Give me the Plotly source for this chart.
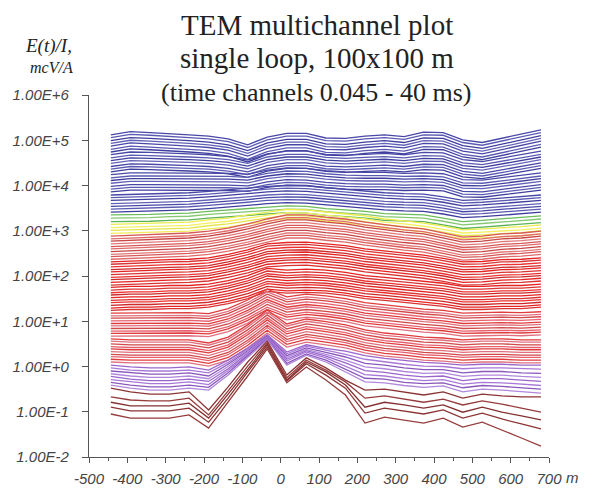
import plotly.graph_objects as go

# ---------------- data ----------------
# receiver stations along the profile, m
stations = [-443, -392, -341, -290, -239, -188, -137, -86, -35, 16, 67, 118,
            169, 220, 271, 322, 373, 424, 475, 526, 577, 628, 679]

# log10(E(t)/I) of every channel at the first station, grouped by colour band
lev_blue = [5.12, 5.06, 4.99, 4.93, 4.87, 4.80, 4.74, 4.68, 4.61, 4.55, 4.49, 4.42, 4.36, 4.30,
            4.24, 4.17, 4.11, 4.05, 3.98, 3.92, 3.86, 3.79, 3.73, 3.67, 3.60, 3.54, 3.48, 3.41]
lev_green = [3.35, 3.28, 3.20]
lev_yellow = [3.14, 3.07, 3.01, 2.94]
lev_red = [2.88, 2.82, 2.77, 2.71, 2.65, 2.60, 2.54, 2.48, 2.43, 2.37,
           2.31, 2.26, 2.20, 2.14, 2.09, 2.03, 1.97, 1.92, 1.86, 1.80,
           1.75, 1.69, 1.63, 1.58, 1.52, 1.46, 1.41, 1.35, 1.29, 1.24,
           1.18, 1.12, 1.07, 1.01, 0.95, 0.90, 0.84, 0.78, 0.73, 0.67,
           0.61, 0.56, 0.50, 0.44, 0.39, 0.33, 0.27, 0.22, 0.16, 0.10]

# profile shapes (log10 change along the line relative to the first station)
shp_blue1 = [0, 0.07, 0.05, 0.03, 0, -0.03, -0.09, -0.22, -0.05, 0.03, 0.03, -0.07, -0.08, -0.03, 0, -0.04, 0.06, 0.05, -0.11, -0.17, -0.08, 0.02, 0.11]
shp_blue2 = [0, 0.06, 0.05, 0.04, 0.02, 0.00, -0.04, -0.12, 0.02, 0.08, 0.08, 0.01, -0.01, 0.01, 0.03, 0.00, 0.05, 0.04, -0.11, -0.15, -0.07, 0.01, 0.08]
shp_blue3 = [0, 0.04, 0.04, 0.04, 0.04, 0.04, 0.03, 0.01, 0.10, 0.15, 0.14, 0.09, 0.06, 0.05, 0.05, 0.03, 0.04, 0.02, -0.11, -0.12, -0.07, -0.01, 0.04]
shp_blue4 = [0, 0.01, 0.02, 0.04, 0.05, 0.08, 0.11, 0.15, 0.19, 0.21, 0.20, 0.16, 0.12, 0.09, 0.05, 0.03, 0.02, -0.04, -0.12, -0.10, -0.07, -0.04, 0.00]
shp_green = [0, 0, 0.01, 0.03, 0.04, 0.08, 0.11, 0.14, 0.18, 0.20, 0.19, 0.14, 0.11, 0.08, 0.03, 0.02, 0, -0.07, -0.15, -0.12, -0.09, -0.06, -0.02]
shp_yellow = [0, 0.01, 0.02, 0.03, 0.05, 0.10, 0.14, 0.21, 0.27, 0.33, 0.32, 0.27, 0.23, 0.19, 0.12, 0.08, 0.03, -0.04, -0.12, -0.10, -0.08, -0.05, -0.01]
shp_red1 = [0, 0.02, 0.03, 0.05, 0.07, 0.11, 0.18, 0.27, 0.38, 0.47, 0.47, 0.42, 0.38, 0.31, 0.25, 0.20, 0.16, 0.07, -0.02, 0.00, 0.05, 0.07, 0.11]
shp_red2 = [0, 0.02, 0.03, 0.05, 0.06, 0.09, 0.17, 0.27, 0.40, 0.43, 0.44, 0.40, 0.36, 0.29, 0.24, 0.19, 0.15, 0.08, 0.00, 0.01, 0.05, 0.06, 0.09]
shp_red3 = [0, 0.02, 0.02, 0.04, 0.04, 0.07, 0.15, 0.26, 0.42, 0.38, 0.40, 0.38, 0.33, 0.26, 0.22, 0.18, 0.13, 0.09, 0.02, 0.02, 0.04, 0.04, 0.07]
shp_red4 = [0, 0, 0, 0.01, 0.01, -0.01, 0.10, 0.29, 0.53, 0.36, 0.42, 0.38, 0.32, 0.23, 0.18, 0.14, 0.09, 0.06, 0, 0.01, 0.02, 0.01, 0.03]
shp_red5 = [0, -0.02, -0.02, -0.02, -0.02, -0.09, 0.04, 0.31, 0.64, 0.33, 0.44, 0.38, 0.31, 0.20, 0.13, 0.09, 0.04, 0.02, -0.02, 0, 0, -0.02, -0.02]

# purple (later) channels, log10(E(t)/I) at every station
purple1 = [0.03, -0.01, -0.03, -0.03, -0.01, -0.08, 0.14, 0.41, 0.70, 0.32, 0.48, 0.40, 0.34, 0.24, 0.18, 0.13, 0.09, 0.07, 0.03, 0.05, 0.05, 0.03, 0.03]
purple2 = [-0.03, -0.08, -0.10, -0.10, -0.08, -0.14, 0.09, 0.38, 0.68, 0.28, 0.45, 0.36, 0.27, 0.16, 0.10, 0.05, 0.01, 0.00, -0.05, -0.03, -0.03, -0.05, -0.06]
purple3 = [-0.10, -0.14, -0.17, -0.17, -0.14, -0.21, 0.05, 0.35, 0.67, 0.24, 0.41, 0.31, 0.21, 0.07, 0.03, -0.03, -0.07, -0.07, -0.14, -0.11, -0.11, -0.14, -0.15]
purple4 = [-0.16, -0.21, -0.24, -0.24, -0.21, -0.27, 0.00, 0.32, 0.65, 0.20, 0.38, 0.27, 0.14, -0.01, -0.05, -0.11, -0.15, -0.14, -0.22, -0.19, -0.19, -0.22, -0.24]
purple5 = [-0.22, -0.28, -0.31, -0.31, -0.28, -0.33, -0.05, 0.29, 0.64, 0.16, 0.35, 0.23, 0.08, -0.09, -0.13, -0.19, -0.23, -0.21, -0.31, -0.27, -0.27, -0.30, -0.33]
purple6 = [-0.29, -0.34, -0.38, -0.38, -0.34, -0.40, -0.09, 0.26, 0.62, 0.12, 0.32, 0.19, 0.01, -0.18, -0.21, -0.27, -0.31, -0.29, -0.39, -0.35, -0.36, -0.39, -0.42]
purple7 = [-0.35, -0.41, -0.45, -0.45, -0.41, -0.46, -0.14, 0.24, 0.61, 0.07, 0.28, 0.14, -0.06, -0.26, -0.28, -0.35, -0.38, -0.36, -0.47, -0.42, -0.44, -0.47, -0.50]
purple8 = [-0.41, -0.48, -0.52, -0.52, -0.48, -0.52, -0.19, 0.21, 0.59, 0.03, 0.25, 0.10, -0.12, -0.34, -0.36, -0.42, -0.46, -0.43, -0.56, -0.50, -0.52, -0.55, -0.59]

# the five latest channels (brown), log10(E(t)/I) at every station
late1 = [-0.48, -0.56, -0.61, -0.61, -0.56, -0.96, -0.45, 0.10, 0.56, -0.19, 0.19, -0.03, -0.30, -0.52, -0.50, -0.56, -0.63, -0.56, -0.70, -0.61, -0.65, -0.67, -0.67]
late2 = [-0.67, -0.74, -0.76, -0.76, -0.70, -1.07, -0.54, 0.01, 0.52, -0.25, 0.14, -0.08, -0.34, -0.70, -0.65, -0.72, -0.79, -0.72, -0.85, -0.76, -0.83, -0.92, -1.01]
late3 = [-0.79, -0.87, -0.87, -0.87, -0.81, -1.14, -0.61, -0.06, 0.48, -0.30, 0.10, -0.12, -0.41, -0.90, -0.79, -0.85, -0.92, -0.85, -1.01, -0.90, -1.01, -1.09, -1.18]
late4 = [-0.90, -0.98, -0.98, -0.98, -0.92, -1.23, -0.70, -0.12, 0.43, -0.32, 0.06, -0.19, -0.48, -1.03, -0.92, -0.98, -1.05, -0.96, -1.14, -1.03, -1.16, -1.27, -1.38]
late5 = [-1.05, -1.14, -1.14, -1.14, -1.07, -1.36, -0.78, -0.21, 0.39, -0.36, -0.01, -0.30, -0.63, -1.25, -1.12, -1.18, -1.25, -1.14, -1.34, -1.23, -1.40, -1.58, -1.76]

y_tick_vals = [1e-2, 1e-1, 1e0, 1e1, 1e2, 1e3, 1e4, 1e5, 1e6]
y_tick_text = ["1.00E-2", "1.00E-1", "1.00E+0", "1.00E+1", "1.00E+2",
               "1.00E+3", "1.00E+4", "1.00E+5", "1.00E+6"]
x_tick_vals = [-500, -400, -300, -200, -100, 0, 100, 200, 300, 400, 500, 600, 700]
x_tick_text = ["-500", "-400", "-300", "-200", "-100", "0", "100", "200", "300",
               "400", "500", "600", "700"]

# ---------------- figure ----------------
fig = go.Figure()
LW = 1.3


def add_lines(levels, shape, colors):
    for i, lv in enumerate(levels):
        fig.add_trace(go.Scatter(
            x=stations, y=[10 ** (lv + s) for s in shape], mode="lines",
            line=dict(color=colors[i % len(colors)], width=LW),
            hoverinfo="skip", showlegend=False))


def add_explicit(series, colors):
    for i, s in enumerate(series):
        fig.add_trace(go.Scatter(
            x=stations, y=[10 ** v for v in s], mode="lines",
            line=dict(color=colors[i % len(colors)], width=LW),
            hoverinfo="skip", showlegend=False))


blues = ["#4848a8", "#5a5ab4", "#3e3e9e", "#6262b8"]
reds_a = ["#d85858", "#e06a6a", "#c84646", "#e27878"]
reds_b = ["#e62222", "#d83434", "#ee3030", "#cc2a2a"]
reds_c = ["#e03c3c", "#e07080", "#d04848", "#e86070"]
purples = ["#9a66cc", "#a878d8", "#8a58bc", "#b088dc"]

add_lines(lev_blue[0:7], shp_blue1, blues)
add_lines(lev_blue[7:14], shp_blue2, blues)
add_lines(lev_blue[14:21], shp_blue3, blues)
add_lines(lev_blue[21:28], shp_blue4, blues)
add_lines(lev_green, shp_green, ["#6cbc5c", "#84c870", "#5cb458"])
add_lines(lev_yellow, shp_yellow, ["#ecec4c", "#f4f060", "#e4e448", "#f0ec58"])
add_lines(lev_red[0:10], shp_red1, reds_a)
add_lines(lev_red[10:20], shp_red2, reds_b)
add_lines(lev_red[20:30], shp_red3, reds_b)
add_lines(lev_red[30:40], shp_red4, reds_c)
add_lines(lev_red[40:50], shp_red5, reds_c)
add_explicit([purple1, purple2, purple3, purple4, purple5, purple6, purple7, purple8], purples)
add_explicit([late1, late2, late3, late4, late5], ["#8c3434", "#963c3c", "#843030"])

axis_col = "#555555"
tick_font = dict(family="Liberation Sans, Arial", size=15, color="#444444", style="italic")

# the page body has an 8 px margin, so the figure is 8 px smaller than the window;
# plot area on screen: x 89..549, y 95..457
fig.update_layout(
    width=587, height=488,
    margin=dict(l=81, r=46, t=87, b=39),
    paper_bgcolor="white", plot_bgcolor="white",
    xaxis=dict(range=[-500, 700], tickmode="array", tickvals=x_tick_vals,
               ticktext=x_tick_text, automargin=False,
               showline=True, linecolor=axis_col, linewidth=1.2,
               ticks="outside", ticklen=5, tickcolor=axis_col,
               ticklabelstandoff=3,
               minor=dict(dtick=50, ticks="outside", ticklen=3, tickcolor=axis_col),
               showgrid=False, zeroline=False, tickfont=tick_font),
    yaxis=dict(type="log", range=[-2, 6], tickmode="array",
               tickvals=y_tick_vals, ticktext=y_tick_text, automargin=False,
               showline=True, linecolor=axis_col, linewidth=1.2,
               ticks="outside", ticklen=6, tickcolor=axis_col,
               ticklabelstandoff=10,
               showgrid=False, zeroline=False, tickfont=tick_font),
)

# positions in paper units of the plot area
serif = "Liberation Serif, Times New Roman, serif"
ann = [
    dict(text="TEM multichannel plot", x=0.495, y=1.192, xanchor="center",
         font=dict(family=serif, size=29, color="#222")),
    dict(text="single loop, 100x100 m", x=0.495, y=1.102, xanchor="center",
         font=dict(family=serif, size=29, color="#222")),
    dict(text="(time channels 0.045 - 40 ms)", x=0.495, y=1.006, xanchor="center",
         font=dict(family=serif, size=26, color="#222")),
    dict(text="E(t)/I,", x=-0.033, y=1.135, xanchor="right",
         font=dict(family=serif, size=19, color="#222", style="italic")),
    dict(text="mcV/A", x=-0.030, y=1.075, xanchor="right",
         font=dict(family=serif, size=16, color="#222", style="italic")),
    dict(text="m", x=1.05, y=-0.058, xanchor="center",
         font=dict(family="Liberation Sans, Arial", size=15, color="#444", style="italic")),
]
for a in ann:
    fig.add_annotation(xref="paper", yref="paper", showarrow=False,
                       yanchor="middle", **a)

fig.write_html("out.html")
